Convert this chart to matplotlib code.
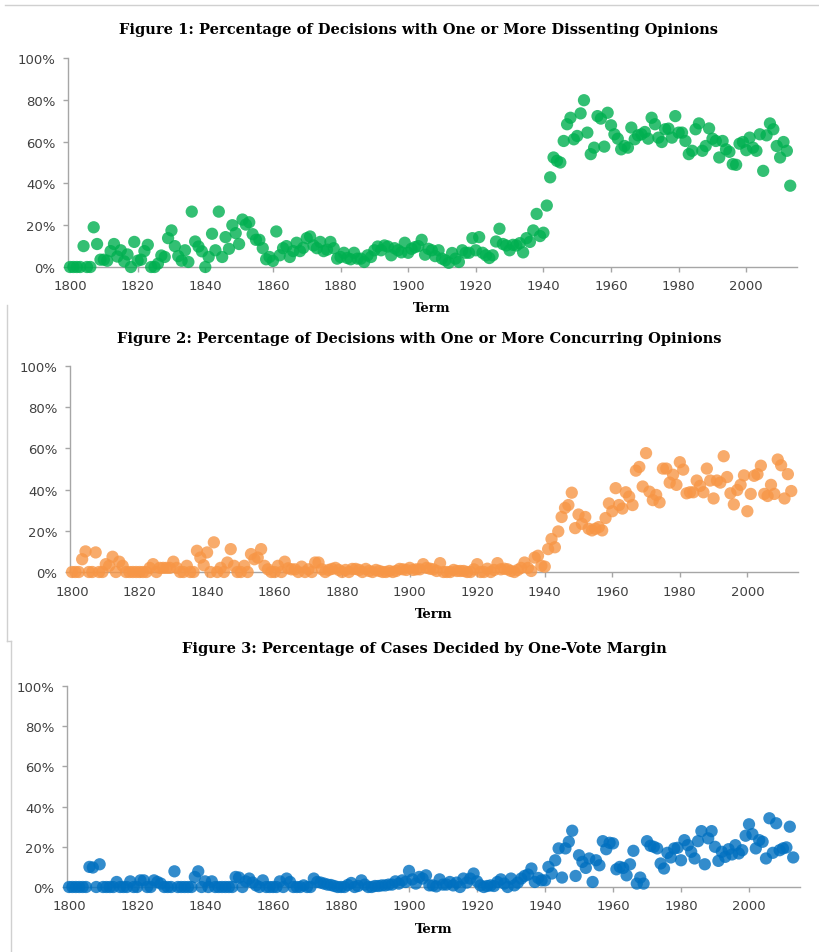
import numpy as np
import matplotlib.pyplot as plt
from matplotlib.lines import Line2D

# terms 1800..2013, one value per term (percent)
years = np.arange(1800, 2014)

dissent = [
    0, 0, 0, 0, 10, 0, 0, 19, 11, 3.5,
    3.5, 3, 7.6, 11, 5, 8, 2.7, 6, 0, 12,
    3, 3.5, 7.6, 10.6, 0, 0, 1.6, 5.5, 4.8, 13.8,
    17.5, 10, 5.2, 3, 8, 2.4, 26.5, 12.2, 9.8, 7.5,
    0, 4.8, 15.9, 8, 26.5, 4.8, 14.3, 8.7, 20, 16.2,
    11, 22.7, 20.3, 21.4, 15.7, 13, 13, 9, 3.7, 4.8,
    2.9, 17, 5.6, 9, 10, 4.8, 7.6, 11.6, 7.6, 9.2,
    13.8, 14.6, 10.3, 9, 12, 7.6, 8.3, 12, 9, 4,
    4.8, 6.8, 4.3, 3.7, 6.8, 4, 4, 2.4, 5.6, 4.8,
    8, 9.8, 8, 10.3, 9.8, 5.6, 9, 8, 7, 11.6,
    6.8, 8.7, 9.5, 10, 13, 5.9, 8.7, 8, 5.2, 8,
    4, 3.2, 2, 6.7, 4, 2.4, 8, 6.8, 6.8, 13.8,
    8, 14.3, 6.8, 5.6, 4.3, 5.6, 12.2, 18.3, 11, 10.3,
    8, 10.6, 10.3, 11.4, 7, 13.8, 12, 17.5, 25.4, 14.8,
    16.4, 29.4, 42.9, 52.4, 50.8, 50, 60.3, 68.3, 71.4, 61.1,
    62.7, 73.5, 79.8, 64.3, 54, 57.1, 72.2, 71, 57.6, 73.8,
    67.8, 63.5, 61.4, 56.3, 57.9, 57.1, 66.7, 61.1, 63, 63.5,
    64.6, 61.4, 71.4, 68.3, 61.9, 59.8, 65.9, 66.2, 61.9, 72.2,
    64.3, 64.3, 60.3, 54, 55.6, 65.9, 68.7, 55.6, 57.9, 66.3,
    61.4, 60.3, 52.4, 60.3, 56.3, 55.1, 49.2, 48.9, 59, 59.8,
    55.9, 61.9, 57.1, 55.6, 63.5, 46, 63, 68.7, 65.9, 57.9,
    52.4, 59.8, 55.6, 38.9,
]

concur = [
    0, 0, 0, 6.2, 10, 0, 0, 9.5, 0, 0,
    3.8, 3, 7.4, 0, 5, 3, 0, 0, 0, 0,
    0, 0, 0, 2, 3.8, 0, 2, 2, 2, 2,
    5, 2, 0, 0, 3, 0, 0, 10.3, 7, 3.3,
    9.5, 0, 14.4, 0, 2, 0, 4.6, 11.1, 3, 0,
    0, 3, 0, 8.7, 6.2, 7, 11.1, 3, 1.3, 0,
    0, 3, 0, 5, 1.8, 1.3, 1.3, 0, 2.6, 0,
    1.3, 0, 4.6, 4.6, 1.3, 0, 1, 1.5, 2, 1,
    0, 1, 0, 1.5, 1.5, 1, 0, 1.5, 0.5, 0,
    1, 0.5, 0, 0, 0.5, 0, 0.5, 1.5, 1.3, 1,
    2, 1, 1.3, 1.3, 3.8, 2, 1.6, 1.3, 0.5, 4.3,
    0, 0, 0, 1, 0.5, 0.5, 0.5, 0, 0, 1.3,
    3.8, 0, 0, 1.6, 0, 1, 4.3, 1.3, 1.6, 1.3,
    0.5, 0, 1, 2, 4.6, 2, 0.5, 7, 7.9, 3,
    2.6, 11.1, 16, 12, 19.7, 26.7, 31.1, 32.5, 38.5, 21.3,
    27.9, 23.4, 26.7, 21, 20.2, 21, 21.8, 20.2, 26.2, 33.3,
    29.5, 40.7, 32.5, 30.8, 38.7, 36.6, 32.5, 49.2, 51, 41.5,
    57.7, 39, 34.9, 37.4, 33.8, 50.2, 50.2, 43.4, 47.2, 42.3,
    53.3, 49.7, 38.2, 38.7, 38.7, 44.4, 41.8, 38.7, 50.2, 44.4,
    35.7, 44.4, 43.4, 56.2, 46.1, 38.2, 32.8, 39.8, 42.3, 46.9,
    29.5, 37.9, 46.7, 47.5, 51.6, 37.9, 36.9, 42.3, 37.9, 54.6,
    51.8, 35.7, 47.5, 39.3,
]

one_vote = [
    0, 0, 0, 0, 0, 0, 10, 9.7, 0, 11.3,
    0, 0, 0, 0, 2.5, 0, 0, 0, 2.8, 0,
    0, 3.3, 3.3, 0, 0, 3.3, 2.5, 1.7, 0, 0,
    0, 7.8, 0, 0, 0, 0, 0, 5, 7.8, 0,
    2.8, 0, 2.8, 0, 0, 0, 0, 0, 0, 5,
    4.7, 0, 2.8, 4.2, 2.2, 0.8, 0, 3.3, 0, 0,
    0, 0, 2.8, 0, 4.2, 2.5, 0, 0, 0, 0.8,
    0, 0, 4.2, 2.5, 2.2, 1.7, 1.2, 1, 0.5, 0,
    0, 0, 1, 2, 0, 0.5, 3.3, 1.2, 0, 0,
    0.5, 0.5, 0.8, 0.8, 1.2, 1.2, 2.8, 1.7, 3.3, 2.5,
    8, 3.8, 1.7, 5, 4.2, 5.8, 0.8, 0.8, 0.3, 3.8,
    1.2, 1.2, 2.5, 0.8, 2.2, 0, 4.2, 2.2, 4.2, 6.7,
    2.8, 0.8, 0, 0.5, 0.8, 0.5, 2.5, 3.8, 1.7, 0,
    4.2, 0.8, 2.2, 4.2, 5.5, 6.2, 9.2, 2.5, 4.5, 3.3,
    3.3, 10, 6.7, 13.3, 19.2, 4.7, 19.2, 22.5, 28, 5.5,
    15.8, 12.5, 9.5, 14.2, 2.5, 13.3, 10.8, 22.8, 18.8, 22,
    21.7, 8.8, 10, 9.5, 5.8, 11.3, 18, 1.7, 4.7, 1.7,
    22.8, 20.5, 20, 19.2, 11.7, 9.2, 17, 14.7, 19.2, 19.5,
    13.3, 23.3, 20.8, 17.5, 14.2, 22.8, 27.8, 11.3, 24.2, 27.8,
    20, 13, 17.5, 15, 18.8, 16.2, 20.8, 16.7, 18.3, 25.5,
    31.2, 26.3, 19.2, 23.3, 22.5, 14.2, 34.2, 17, 31.7, 18.3,
    19.2, 19.7, 30, 14.7,
]

titles = [
    "Figure 1: Percentage of Decisions with One or More Dissenting Opinions",
    "Figure 2: Percentage of Decisions with One or More Concurring Opinions",
    "Figure 3: Percentage of Cases Decided by One-Vote Margin",
]
colors = ["#00b050", "#f79646", "#0070c0"]
series = [dissent, concur, one_vote]

W, H = 820, 953
fig = plt.figure(figsize=(W / 100, H / 100), dpi=100)

# axes boxes in pixels: left, right, top(100%), bottom(0%)
boxes = [(68, 797, 59, 268), (70, 798, 367, 573), (67, 800, 687, 888)]
title_pos = [(419, 30), (419, 339), (424, 649)]
term_pos = [(432, 309), (434, 614), (434, 930)]

grey = "#a6a6a6"
for i in range(3):
    l, r, t, b = boxes[i]
    ax = fig.add_axes([l / W, 1 - b / H, (r - l) / W, (b - t) / H])
    ax.scatter(years, series[i], s=78, color=colors[i], alpha=0.8,
               edgecolors="none", clip_on=False, zorder=3)
    ax.set_xlim(1799.4, 2015)
    ax.set_ylim(0, 100)
    ax.set_xticks(range(1800, 2001, 20))
    ax.set_yticks(range(0, 101, 20))
    ax.set_yticklabels([f"{v}%" for v in range(0, 101, 20)])
    for s in ["top", "right"]:
        ax.spines[s].set_visible(False)
    for s in ["left", "bottom"]:
        ax.spines[s].set_color(grey)
        ax.spines[s].set_linewidth(1)
    ax.tick_params(axis="both", colors=grey, labelcolor="#404040",
                   labelsize=9.5, length=3.5, width=1)
    ax.tick_params(axis="x", pad=5.5)
    ax.tick_params(axis="y", pad=5.5)

    fig.text(title_pos[i][0] / W, 1 - title_pos[i][1] / H, titles[i],
             ha="center", va="center", fontsize=10.5, fontweight="bold",
             family="DejaVu Serif")
    fig.text(term_pos[i][0] / W, 1 - term_pos[i][1] / H, "Term",
             ha="center", va="center", fontsize=9.5, fontweight="bold",
             family="DejaVu Serif")

# faint page borders from the pasted figures
line_c = "#d0d0d0"
segs = [
    ((5, 820), (6, 6)),
    ((7, 7), (306, 642)),
    ((7, 11.5), (642, 642)),
    ((11.5, 11.5), (642, 953)),
]
for xs, ys in segs:
    fig.add_artist(Line2D([x / W for x in xs], [1 - y / H for y in ys],
                          transform=fig.transFigure, color=line_c, lw=1))

fig.savefig("out.png", dpi=100, facecolor="white")
